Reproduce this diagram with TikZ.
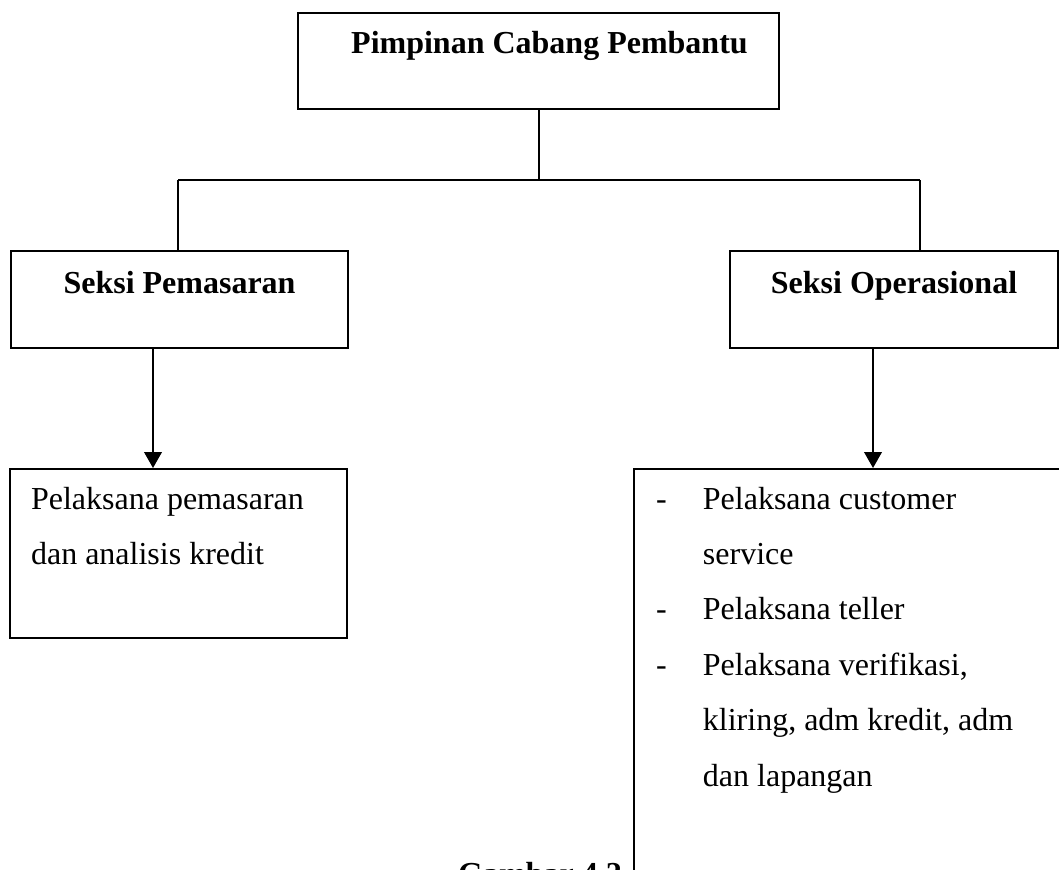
\documentclass[tikz,border=0pt]{standalone}
\usepackage{fontspec}
\setmainfont{Liberation Serif}
\usetikzlibrary{arrows.meta}
\newcommand\butir{\makebox[17.6pt][l]{-}}

\tikzset{
  orgbox/.style={draw, line width=0.75pt, inner sep=0pt, anchor=north west,
                 font=\fontsize{12}{20.8}\selectfont},
  seksi/.style={orgbox, font=\fontsize{12}{20.8}\selectfont\bfseries,
                text height=16.1pt, text depth=20.3pt},
  link/.style={line width=0.75pt},
  arrowlink/.style={link, -{Triangle[length=6pt,width=6.6pt]}}
}

\begin{document}
\begin{tikzpicture}[x=0.375pt, y=-0.375pt]
\useasboundingbox (0,0) rectangle (1059,869);
\clip (0,0) rectangle (1059,869);

\draw (297,12) node [seksi, minimum width=180.4pt, text height=15pt, text depth=21pt] (pimpinan) {\hspace{8.2pt}Pimpinan Cabang Pembantu};
\draw (10,250) node [seksi, minimum width=126.4pt] (pemasaran) {Seksi Pemasaran};
\draw (729,250) node [seksi, minimum width=123pt] (operasional) {Seksi Operasional};
\draw (9,468) node [orgbox, text height=15pt, text depth=48.4pt] (pelaksanaA)
  {\makebox[126.4pt][l]{\hspace{7.9pt}\begin{tabular}[t]{@{}l@{}}Pelaksana pemasaran\\ dan analisis kredit\end{tabular}}};
\draw (633,468) node [orgbox, text height=15pt, text depth=153.75pt] (pelaksanaB)
  {\makebox[187.5pt][l]{\hspace{8.25pt}\begin{tabular}[t]{@{}l@{}l@{}}\butir & Pelaksana customer\\ & service\\ \butir & Pelaksana teller\\ \butir & Pelaksana verifikasi,\\ & kliring, adm kredit, adm\\ & dan lapangan\end{tabular}}};
\draw (540,884) node [font=\fontsize{12}{20.8}\selectfont\bfseries, anchor=base] (gambar) {Gambar 4.2};

\coordinate (busL) at (178,180);
\coordinate (busR) at (920,180);
\coordinate (arrL) at (153,0);
\coordinate (arrR) at (873,0);
\draw[link] (pimpinan.south) -- (pimpinan.south |- busL);
\draw[link] (busL) -- (busR);
\draw[link] (busL) -- (busL |- pemasaran.north);
\draw[link] (busR) -- (busR |- operasional.north);
\draw[arrowlink] (arrL |- pemasaran.south) -- (arrL |- pelaksanaA.north);
\draw[arrowlink] (arrR |- operasional.south) -- (arrR |- pelaksanaB.north);
\end{tikzpicture}
\end{document}
